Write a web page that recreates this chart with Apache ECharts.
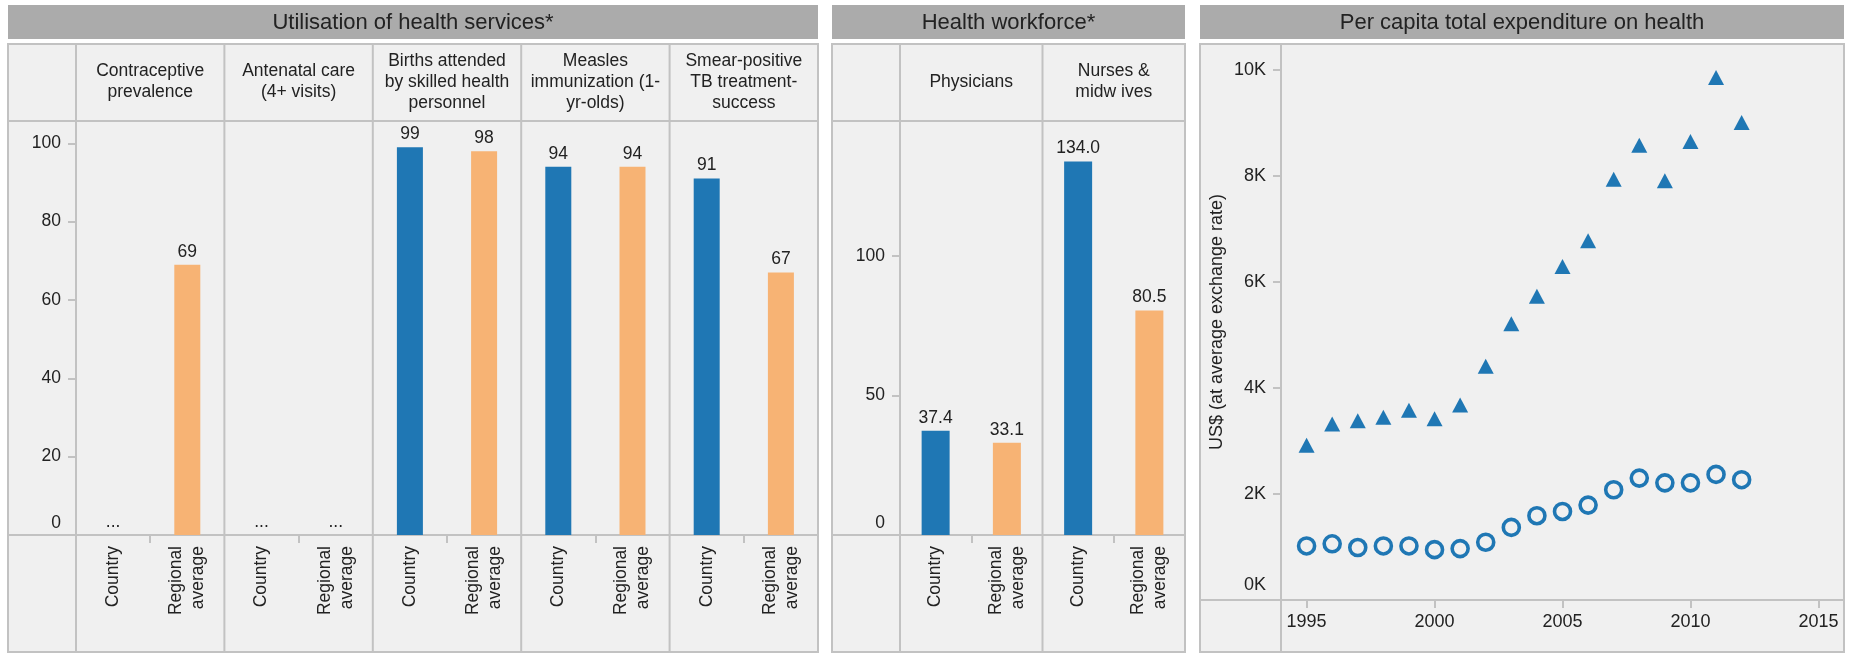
<!DOCTYPE html>
<html><head><meta charset="utf-8">
<script src="https://cdn.jsdelivr.net/npm/echarts@6/dist/echarts.min.js"></script>
<style>html,body{margin:0;padding:0;background:#fff}#c{width:1851px;height:654px}</style>
</head><body><div id="c"></div>
<script>
// ---------- DATA ----------
const panelTitles = ['Utilisation of health services*', 'Health workforce*', 'Per capita total expenditure on health'];
const groupLabels = ['Country', 'Regional\naverage'];

const utilIndicators = ['Contraceptive\nprevalence', 'Antenatal care\n(4+ visits)', 'Births attended\nby skilled health\npersonnel', 'Measles\nimmunization (1-\nyr-olds)', 'Smear-positive\nTB treatment-\nsuccess'];
const utilCountry = [null, null, 99, 94, 91];
const utilRegional = [69, null, 98, 94, 67];
const utilTicks = [0, 20, 40, 60, 80, 100];

const workforceIndicators = ['Physicians', 'Nurses &\nmidw ives'];
const workforceCountry = [37.4, 134.0];
const workforceRegional = [33.1, 80.5];
const workforceTicks = [0, 50, 100];

const years = [1995, 1996, 1997, 1998, 1999, 2000, 2001, 2002, 2003, 2004, 2005, 2006, 2007, 2008, 2009, 2010, 2011, 2012];
const expTriangle = [2920, 3320, 3380, 3450, 3580, 3420, 3680, 4410, 5210, 5730, 6290, 6780, 7940, 8580, 7910, 8650, 9860, 9010];
const expCircle = [1020, 1060, 990, 1020, 1020, 950, 970, 1090, 1370, 1590, 1670, 1790, 2080, 2300, 2210, 2210, 2370, 2270];
const expYearTicks = [1995, 2000, 2005, 2010, 2015];
const expValueTicks = [0, 2000, 4000, 6000, 8000, 10000];
const expAxisName = 'US$ (at average exchange rate)';

// ---------- STYLE / LAYOUT ----------
const BLUE = '#1f77b4', ORANGE = '#f7b374';
const FONT = "'Liberation Sans', Arial, sans-serif";
const TXT = '#222';
const LINE = '#c2c2c2';
const W = 1851, H = 654;
const L = {
  titleTop: 5, titleH: 34, boxTop: 44, boxBottom: 652, headBottom: 121, axisY: 535,
  p1: { l: 8, axis: 76, r: 818 },
  p2: { l: 832, axis: 900, r: 1185 },
  p3: { l: 1200, axis: 1281, r: 1844, xAxisY: 600 }
};

function zeroShift(fmt) {
  return function (v) { return v === 0 ? '{z|' + fmt(v) + '}' : fmt(v); };
}
const zeroRich = { z: { padding: [0, 0, 24, 0], fontSize: 17.5, color: TXT, fontFamily: FONT } };

function barItems(country, regional) {
  const out = [];
  country.forEach(function (c, i) {
    [[c, BLUE], [regional[i], ORANGE]].forEach(function (p) {
      if (p[0] == null) out.push({ value: 0, itemStyle: { color: p[1] }, label: { formatter: '...' } });
      else out.push({ value: p[0], itemStyle: { color: p[1] } });
    });
  });
  return out;
}
function groupCats(n) {
  const out = [];
  for (let i = 0; i < n; i++) groupLabels.forEach(function (g) { out.push(g); });
  return out;
}

function barPanel(p, gi, indicators, country, regional, maxV, ticks, dec, barW) {
  const grid = { left: p.axis, width: p.r - p.axis, top: L.headBottom, height: L.axisY - L.headBottom };
  const xBottom = {
    type: 'category', gridIndex: gi, position: 'bottom', data: groupCats(indicators.length),
    axisLine: { show: false },
    axisTick: { show: true, interval: function (i) { return i % 2 === 1; }, length: 8, lineStyle: { color: LINE, width: 2 } },
    axisLabel: { interval: 0, rotate: 90, margin: 11, fontSize: 17.5, lineHeight: 22, color: TXT, fontFamily: FONT },
    splitLine: { show: false }
  };
  const xTop = {
    type: 'category', gridIndex: gi, position: 'top', data: indicators,
    axisLine: { show: false }, axisTick: { show: false }, splitLine: { show: false },
    axisLabel: { interval: 0, margin: 39, verticalAlign: 'middle', fontSize: 17.5, lineHeight: 21, color: TXT, fontFamily: FONT }
  };
  const y = {
    type: 'value', gridIndex: gi, min: 0, max: maxV,
    axisLine: { show: false }, splitLine: { show: false },
    axisTick: { show: true, customValues: ticks, length: 8, lineStyle: { color: LINE, width: 2 } },
    axisLabel: { customValues: ticks, margin: 15, fontSize: 17.5, color: TXT, fontFamily: FONT, formatter: zeroShift(String), rich: zeroRich }
  };
  const s = {
    type: 'bar', xAxisIndex: gi * 2, yAxisIndex: gi, barWidth: barW,
    data: barItems(country, regional),
    label: { show: true, position: 'top', distance: 4, fontSize: 17.5, color: TXT, fontFamily: FONT,
      formatter: function (prm) { return prm.value.toFixed(dec); } }
  };
  return { grid: grid, xAxes: [xBottom, xTop], y: y, s: s };
}

const b1 = barPanel(L.p1, 0, utilIndicators, utilCountry, utilRegional, 105.7, utilTicks, 0, 26);
const b2 = barPanel(L.p2, 1, workforceIndicators, workforceCountry, workforceRegional, 148.5, workforceTicks, 1, 28);

const p3 = L.p3;
const grid3 = { left: p3.axis, width: p3.r - p3.axis, top: L.boxTop, height: p3.xAxisY - L.boxTop };
const x3 = {
  type: 'value', gridIndex: 2, min: 1994, max: 2016,
  axisLine: { show: false }, splitLine: { show: false },
  axisTick: { show: true, customValues: expYearTicks, length: 8, lineStyle: { color: LINE, width: 2 } },
  axisLabel: { customValues: expYearTicks, margin: 13, fontSize: 18, color: TXT, fontFamily: FONT, formatter: function (v) { return String(v); } }
};
const y3 = {
  type: 'value', gridIndex: 2, min: 0, max: 10490,
  name: expAxisName, nameLocation: 'middle', nameGap: 55, nameRotate: 90,
  nameTextStyle: { fontSize: 18, color: TXT, fontFamily: FONT },
  axisLine: { show: false }, splitLine: { show: false },
  axisTick: { show: true, customValues: expValueTicks, length: 8, lineStyle: { color: LINE, width: 2 } },
  axisLabel: { customValues: expValueTicks, margin: 15, fontSize: 18, color: TXT, fontFamily: FONT,
    formatter: zeroShift(function (v) { return (v / 1000) + 'K'; }), rich: { z: { padding: [0, 0, 30, 0], fontSize: 18, color: TXT, fontFamily: FONT } } }
};
const sTri = { type: 'scatter', xAxisIndex: 4, yAxisIndex: 2, symbol: 'triangle', symbolSize: [16, 15],
  itemStyle: { color: BLUE, opacity: 1 }, data: years.map(function (yr, i) { return [yr, expTriangle[i]]; }) };
const sCir = { type: 'scatter', xAxisIndex: 4, yAxisIndex: 2, symbol: 'circle', symbolSize: 16,
  itemStyle: { color: 'rgba(0,0,0,0)', borderColor: BLUE, borderWidth: 3.6, opacity: 1 },
  data: years.map(function (yr, i) { return [yr, expCircle[i]]; }) };

// ---------- TABLE GRAPHICS (layout only) ----------
const graphics = [];
function line(x1, y1, x2, y2) {
  graphics.push({ type: 'line', z: 1, silent: true, shape: { x1: x1, y1: y1, x2: x2, y2: y2 }, style: { stroke: LINE, lineWidth: 2 } });
}
[L.p1, L.p2, L.p3].forEach(function (p, k) {
  graphics.push({ type: 'rect', z: -10, silent: true, shape: { x: p.l, y: L.titleTop, width: p.r - p.l, height: L.titleH }, style: { fill: '#ababab' } });
  graphics.push({ type: 'text', z: 5, silent: true, style: { x: (p.l + p.r) / 2, y: L.titleTop + L.titleH / 2 + 1, text: panelTitles[k], align: 'center', verticalAlign: 'middle', fontSize: 22, fontFamily: FONT, fill: TXT } });
  graphics.push({ type: 'rect', z: -10, silent: true, shape: { x: p.l, y: L.boxTop, width: p.r - p.l, height: L.boxBottom - L.boxTop }, style: { fill: '#f0f0f0', stroke: LINE, lineWidth: 2 } });
});
[[L.p1, utilIndicators.length], [L.p2, workforceIndicators.length]].forEach(function (pp) {
  const p = pp[0], n = pp[1];
  line(p.l, L.headBottom, p.r, L.headBottom);
  line(p.l, L.axisY, p.r, L.axisY);
  line(p.axis, L.boxTop, p.axis, L.boxBottom);
  const cw = (p.r - p.axis) / n;
  for (let k = 1; k < n; k++) line(p.axis + k * cw, L.boxTop, p.axis + k * cw, L.boxBottom);
});
line(p3.l, p3.xAxisY, p3.r, p3.xAxisY);
line(p3.axis, L.boxTop, p3.axis, L.boxBottom);

const chart = echarts.init(document.getElementById('c'), null, { renderer: 'canvas', width: W, height: H });
chart.setOption({
  animation: false,
  backgroundColor: '#ffffff',
  textStyle: { fontFamily: FONT, color: TXT },
  grid: [b1.grid, b2.grid, grid3],
  xAxis: b1.xAxes.concat(b2.xAxes).concat([x3]),
  yAxis: [b1.y, b2.y, y3],
  series: [b1.s, b2.s, sTri, sCir],
  graphic: graphics
});
</script></body></html>
